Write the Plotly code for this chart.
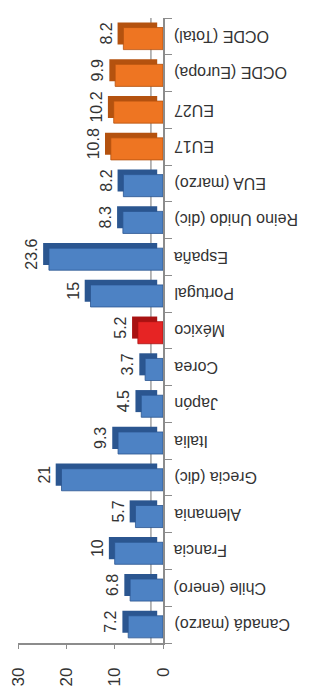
import plotly.graph_objects as go

categories = ["Canadá (marzo)", "Chile (enero)", "Francia", "Alemania", "Grecia (dic)",
              "Italia", "Japón", "Corea", "México", "Portugal", "España",
              "Reino Unido (dic)", "EUA (marzo)", "EU17", "EU27", "OCDE (Europa)", "OCDE (Total)"]
values = [7.2, 6.8, 10, 5.7, 21, 9.3, 4.5, 3.7, 5.2, 15, 23.6, 8.3, 8.2, 10.8, 10.2, 9.9, 8.2]
groups = ["pais"] * 8 + ["mexico"] + ["pais"] * 4 + ["region"] * 4
value_ticks = [0, 10, 20, 30]

front_colors = {"pais": "#4D82C4", "mexico": "#E62424", "region": "#EE7522"}
back_colors = {"pais": "#2B5690", "mexico": "#A81212", "region": "#B4520F"}

font = "Liberation Sans"
depth = 1.2
fig = go.Figure()
fig.add_trace(go.Bar(
    y=categories, x=values, orientation="h", base=[depth] * len(values),
    width=0.6, offset=-0.22,
    marker=dict(color=[back_colors[g] for g in groups], line=dict(width=0)),
    text=[f"{v:g}" for v in values], textposition="outside", textangle=-90,
    textfont=dict(family=font, size=16, color="#333333"),
    constraintext="none", cliponaxis=False, hoverinfo="skip",
))
fig.add_trace(go.Bar(
    y=categories, x=values, orientation="h",
    width=0.6, offset=-0.36,
    marker=dict(color=[front_colors[g] for g in groups],
                line=dict(width=0.8, color=[back_colors[g] for g in groups])),
    hoverinfo="skip",
))
fig.add_vline(x=2.5, line=dict(color="#A0A0A0", width=1.5), layer="below")

for c in categories:
    fig.add_annotation(x=1, xref="x domain", y=c, yref="y", text=c, showarrow=False,
                       textangle=180, xanchor="left", xshift=9,
                       font=dict(family=font, size=16, color="#333333"))

fig.update_layout(
    width=317, height=698, barmode="overlay", showlegend=False,
    margin=dict(l=10, r=162, t=10, b=63, autoexpand=False),
    paper_bgcolor="white", plot_bgcolor="white",
    xaxis=dict(range=[30, 0], tickvals=value_ticks, tickangle=-90, showgrid=False, zeroline=False,
               showline=True, linecolor="#8C8C8C", linewidth=1.5, ticks="outside", ticklen=4,
               tickcolor="#8C8C8C", automargin=False, ticklabelstandoff=12,
               tickfont=dict(family=font, size=17, color="#333333")),
    yaxis=dict(side="right", type="category", categoryorder="array", categoryarray=categories,
               showticklabels=False, showgrid=False, zeroline=False, showline=True,
               linecolor="#8C8C8C", linewidth=1.5, ticks="outside", ticklen=7,
               tickcolor="#8C8C8C", tickson="boundaries", automargin=False),
)
fig.write_html("out.html")
